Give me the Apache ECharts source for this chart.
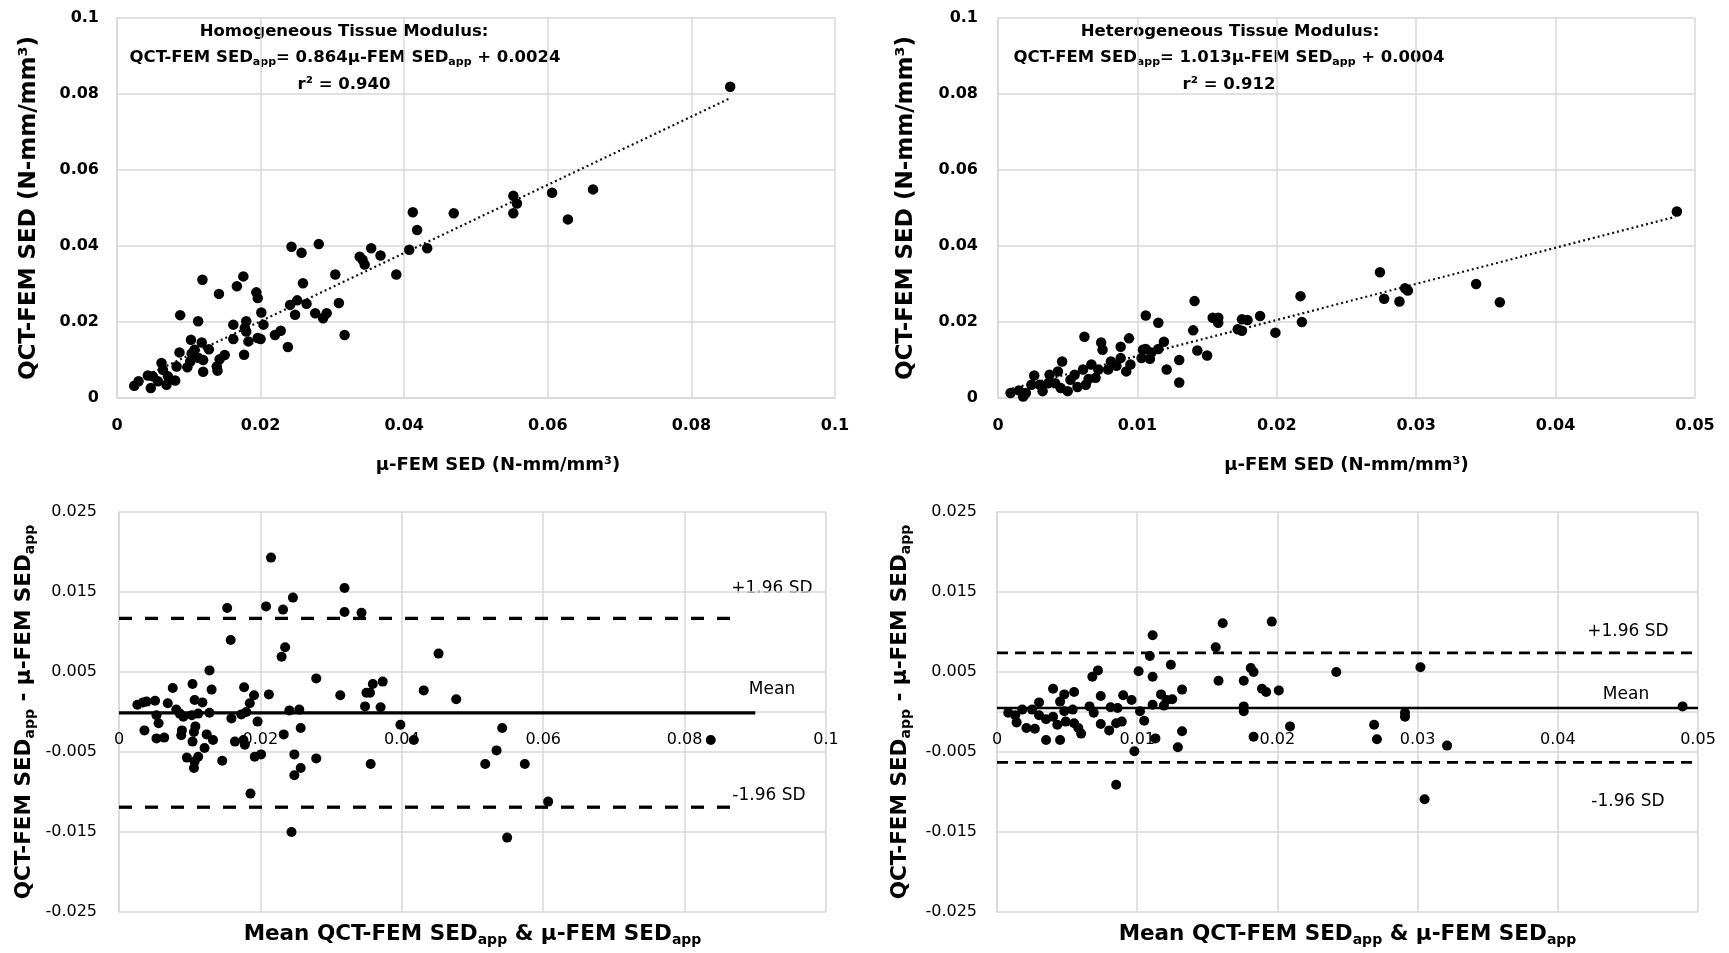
<!DOCTYPE html>
<html lang="en">
<head>
  <meta charset="utf-8">
  <title>QCT-FEM vs µ-FEM SED</title>
  <script src="https://cdn.jsdelivr.net/npm/echarts@6/dist/echarts.min.js"></script>
  <style>
    html, body { margin: 0; padding: 0; background: #fff; }
    #chart { width: 1729px; height: 953px; }
  </style>
</head>
<body>
<div id="chart"></div>
<script>
  const FONT = '"DejaVu Sans", sans-serif';
  const GRAY = '#d9d9d9';

  // top panels: [µ-FEM SED, QCT-FEM SED]
  const homogeneousPts = [
    [0.0854,0.0819],[0.0663,0.0549],[0.0606,0.0540],[0.0628,0.0470],[0.0552,0.0532],[0.0557,0.0512],
    [0.0552,0.0486],[0.0469,0.0486],[0.0412,0.0489],[0.0418,0.0442],[0.0432,0.0394],[0.0407,0.0390],
    [0.0389,0.0325],[0.0367,0.0375],[0.0354,0.0394],[0.0342,0.0364],[0.0338,0.0372],[0.0345,0.0351],
    [0.0304,0.0325],[0.0309,0.0250],[0.0317,0.0166],[0.0281,0.0405],[0.0243,0.0398],[0.0257,0.0382],
    [0.0259,0.0302],[0.0241,0.0245],[0.0251,0.0257],[0.0248,0.0219],[0.0264,0.0248],[0.0276,0.0223],
    [0.0287,0.0210],[0.0292,0.0223],[0.0220,0.0166],[0.0228,0.0177],[0.0238,0.0134],[0.0194,0.0278],
    [0.0196,0.0263],[0.0201,0.0225],[0.0204,0.0193],[0.0119,0.0311],[0.0176,0.0320],[0.0167,0.0294],
    [0.0142,0.0274],[0.0088,0.0218],[0.0113,0.0202],[0.0162,0.0193],[0.0180,0.0202],[0.0178,0.0184],
    [0.0180,0.0175],[0.0162,0.0155],[0.0183,0.0149],[0.0196,0.0158],[0.0200,0.0155],[0.0177,0.0114],
    [0.0103,0.0153],[0.0118,0.0146],[0.0128,0.0128],[0.0087,0.0120],[0.0104,0.0117],[0.0113,0.0106],
    [0.0102,0.0096],[0.0098,0.0081],[0.0120,0.0100],[0.0120,0.0069],[0.0139,0.0083],[0.0143,0.0102],
    [0.0150,0.0113],[0.0140,0.0072],[0.0083,0.0083],[0.0062,0.0092],[0.0064,0.0074],[0.0071,0.0057],
    [0.0081,0.0046],[0.0069,0.0035],[0.0050,0.0057],[0.0043,0.0059],[0.0047,0.0026],[0.0030,0.0044],
    [0.0024,0.0032],[0.0057,0.0044],[0.0108,0.0127]
  ];
  const homogeneousTrend = [[0.0025, 0.0045], [0.0854, 0.0789]];

  const heterogeneousPts = [
    [0.0487,0.0491],[0.0274,0.0331],[0.0343,0.0300],[0.0360,0.0252],[0.0292,0.0289],[0.0294,0.0283],
    [0.0277,0.0261],[0.0288,0.0254],[0.0217,0.0268],[0.0218,0.0200],[0.0199,0.0172],[0.0188,0.0216],
    [0.0179,0.0205],[0.0175,0.0207],[0.0172,0.0181],[0.0175,0.0177],[0.0141,0.0255],[0.0140,0.0178],
    [0.0143,0.0125],[0.0150,0.0112],[0.0154,0.0211],[0.0158,0.0211],[0.0158,0.0198],[0.0106,0.0217],
    [0.0115,0.0198],[0.0094,0.0157],[0.0088,0.0135],[0.0119,0.0148],[0.0115,0.0129],[0.0106,0.0129],
    [0.0110,0.0120],[0.0130,0.0100],[0.0121,0.0075],[0.0130,0.0041],[0.0104,0.0127],[0.0103,0.0105],
    [0.0109,0.0103],[0.0088,0.0105],[0.0095,0.0088],[0.0092,0.0070],[0.0062,0.0161],[0.0074,0.0146],
    [0.0075,0.0127],[0.0081,0.0096],[0.0079,0.0075],[0.0067,0.0088],[0.0072,0.0075],[0.0070,0.0053],
    [0.0061,0.0075],[0.0063,0.0035],[0.0055,0.0061],[0.0052,0.0048],[0.0046,0.0096],[0.0043,0.0070],
    [0.0037,0.0061],[0.0036,0.0039],[0.0041,0.0039],[0.0045,0.0026],[0.0050,0.0018],[0.0030,0.0035],
    [0.0026,0.0059],[0.0024,0.0035],[0.0032,0.0018],[0.0020,0.0013],[0.0015,0.0020],[0.0009,0.0013],
    [0.0018,0.0004],[0.0057,0.0029],[0.0065,0.0050],[0.0085,0.0085]
  ];
  const heterogeneousTrend = [[0.0010, 0.0025], [0.0486, 0.0477]];

  // bottom panels: [mean of both SED, QCT-FEM minus µ-FEM]
  const homogeneousDiff = [
    [0.0215,0.0193],[0.0319,0.0155],[0.0319,0.0125],[0.0343,0.0124],[0.0246,0.0143],[0.0232,0.0128],
    [0.0208,0.0132],[0.0153,0.0130],[0.0158,0.0090],[0.0235,0.0081],[0.0230,0.0069],[0.0128,0.0052],
    [0.0279,0.0042],[0.0076,0.0030],[0.0104,0.0035],[0.0131,0.0028],[0.0177,0.0031],[0.0191,0.0021],
    [0.0212,0.0022],[0.0185,0.0011],[0.0313,0.0021],[0.0350,0.0024],[0.0355,0.0024],[0.0359,0.0035],
    [0.0373,0.0038],[0.0348,0.0007],[0.0370,0.0006],[0.0241,0.0002],[0.0255,0.0003],[0.0026,0.0009],
    [0.0034,0.0012],[0.0039,0.0013],[0.0051,0.0014],[0.0069,0.0011],[0.0053,-0.0004],[0.0056,-0.0014],
    [0.0036,-0.0023],[0.0053,-0.0033],[0.0064,-0.0032],[0.0081,0.0003],[0.0086,-0.0002],[0.0091,-0.0006],
    [0.0089,-0.0023],[0.0088,-0.0029],[0.0103,-0.0004],[0.0107,0.0015],[0.0118,0.0012],[0.0112,-0.0002],
    [0.0128,-0.0001],[0.0108,-0.0018],[0.0106,-0.0025],[0.0104,-0.0037],[0.0124,-0.0028],[0.0133,-0.0035],
    [0.0121,-0.0045],[0.0112,-0.0056],[0.0096,-0.0057],[0.0107,-0.0062],[0.0106,-0.0070],[0.0146,-0.0061],
    [0.0159,-0.0008],[0.0164,-0.0037],[0.0176,-0.0035],[0.0178,-0.0041],[0.0173,-0.0003],[0.0180,0.0000],
    [0.0196,-0.0012],[0.0192,-0.0056],[0.0201,-0.0053],[0.0186,-0.0102],[0.0233,-0.0028],[0.0248,-0.0053],
    [0.0257,-0.0020],[0.0248,-0.0079],[0.0257,-0.0070],[0.0279,-0.0058],[0.0398,-0.0016],[0.0356,-0.0065],
    [0.0417,-0.0035],[0.0452,0.0073],[0.0431,0.0027],[0.0477,0.0016],[0.0542,-0.0020],[0.0534,-0.0048],
    [0.0518,-0.0065],[0.0574,-0.0065],[0.0607,-0.0112],[0.0549,-0.0157],[0.0837,-0.0035],[0.0244,-0.0150]
  ];
  const heterogeneousDiff = [
    [0.0196,0.0113],[0.0161,0.0111],[0.0156,0.0081],[0.0111,0.0096],[0.0109,0.0070],[0.0111,0.0044],
    [0.0101,0.0051],[0.0124,0.0059],[0.0158,0.0039],[0.0176,0.0039],[0.0181,0.0055],[0.0183,0.0050],
    [0.0189,0.0029],[0.0192,0.0025],[0.0201,0.0027],[0.0132,0.0028],[0.0117,0.0022],[0.0121,0.0015],
    [0.0125,0.0016],[0.0111,0.0009],[0.0119,0.0008],[0.0176,0.0007],[0.0176,0.0001],[0.0068,0.0044],
    [0.0072,0.0052],[0.0040,0.0029],[0.0048,0.0022],[0.0055,0.0025],[0.0045,0.0013],[0.0030,0.0012],
    [0.0074,0.0020],[0.0090,0.0021],[0.0096,0.0015],[0.0066,0.0007],[0.0069,-0.0001],[0.0074,-0.0015],
    [0.0081,0.0006],[0.0086,0.0005],[0.0102,0.0001],[0.0105,-0.0011],[0.0085,-0.0014],[0.0089,-0.0012],
    [0.0080,-0.0023],[0.0008,-0.0001],[0.0013,-0.0004],[0.0018,0.0003],[0.0014,-0.0013],[0.0021,-0.0020],
    [0.0027,-0.0021],[0.0025,0.0003],[0.0030,-0.0004],[0.0035,-0.0009],[0.0040,-0.0006],[0.0043,-0.0016],
    [0.0035,-0.0035],[0.0045,-0.0035],[0.0048,0.0001],[0.0054,0.0003],[0.0049,-0.0012],[0.0055,-0.0014],
    [0.0058,-0.0020],[0.0060,-0.0027],[0.0113,-0.0033],[0.0132,-0.0024],[0.0129,-0.0044],[0.0098,-0.0049],
    [0.0085,-0.0091],[0.0183,-0.0031],[0.0209,-0.0018],[0.0242,0.0050],[0.0302,0.0056],[0.0489,0.0007],
    [0.0291,-0.0001],[0.0291,-0.0006],[0.0269,-0.0016],[0.0271,-0.0034],[0.0321,-0.0042],[0.0305,-0.0109]
  ];

  // [+1.96 SD, mean, -1.96 SD]
  const homogeneousLimits = [0.0117, -0.0001, -0.0119];
  const heterogeneousLimits = [0.0074, 0.0005, -0.0063];
  // x where the dashed and the solid lines stop
  const homogeneousLimitEnd = [0.088, 0.090];
  const heterogeneousLimitEnd = [0.05, 0.05];

  const diffTicks = [-0.025, -0.015, -0.005, 0.005, 0.015, 0.025];

  let chart = echarts.init(document.getElementById('chart'));

  let boldLabel = { color: '#000', fontFamily: FONT, fontWeight: 'bold', fontSize: 16 };
  let plainLabel = { color: '#000', fontFamily: FONT, fontSize: 16 };
  let subRich = {
    t: { fontFamily: FONT, fontWeight: 'bold', fontSize: 21.5, lineHeight: 26, color: '#000' },
    sub: { fontFamily: FONT, fontWeight: 'bold', fontSize: 14, lineHeight: 15, verticalAlign: 'bottom', color: '#000' }
  };

  // bottom panels: x axis sits on y = 0, which is the middle of a symmetric y range
  const BOTTOM_H = 400;
  const zeroOffset = -BOTTOM_H / 2;

  function axis(extra) {
    return Object.assign({
      type: 'value',
      nameLocation: 'middle',
      axisLine: { show: true, onZero: false, lineStyle: { color: GRAY, width: 1.5 } },
      axisTick: { show: false },
      splitLine: { show: true, lineStyle: { color: GRAY, width: 1.5 } }
    }, extra);
  }

  function limitLines(limits, ends, idx, dash, width) {
    return limits.map(function (v, i) {
      let end = i === 1 ? ends[1] : ends[0];
      return {
        type: 'line', xAxisIndex: idx, yAxisIndex: idx, z: 1,
        data: [[0, v], [end, v]], showSymbol: false, silent: true,
        lineStyle: { color: '#000', width: width, type: i === 1 ? 'solid' : dash }
      };
    });
  }

  function txt(x, y, text, size, weight, rich) {
    return {
      type: 'text', x: x, y: y, silent: true,
      style: {
        text: text, fill: '#000', fontFamily: FONT, fontSize: size, fontWeight: weight,
        align: 'center', verticalAlign: 'middle', rich: rich
      }
    };
  }

  let annRich = {
    t: { fontFamily: FONT, fontWeight: 'bold', fontSize: 16.5, lineHeight: 20, color: '#000' },
    sub: { fontFamily: FONT, fontWeight: 'bold', fontSize: 11, lineHeight: 12, verticalAlign: 'bottom', color: '#000' }
  };

  let option = {
    animation: false,
    grid: [
      { left: 117, top: 18, width: 718, height: 380, outerBoundsMode: 'none' },
      { left: 998, top: 18, width: 697, height: 380, outerBoundsMode: 'none' },
      { left: 119, top: 512, width: 707, height: BOTTOM_H, outerBoundsMode: 'none' },
      { left: 997, top: 512, width: 701, height: BOTTOM_H, outerBoundsMode: 'none' }
    ],
    xAxis: [
      axis({ gridIndex: 0, min: 0, max: 0.1, interval: 0.02, name: 'µ-FEM SED (N-mm/mm³)', nameGap: 58,
        nameTextStyle: { fontFamily: FONT, fontWeight: 'bold', fontSize: 18, color: '#000', padding: [0, 0, 0, 44] },
        axisLabel: Object.assign({ margin: 20 }, boldLabel) }),
      axis({ gridIndex: 1, min: 0, max: 0.05, interval: 0.01, name: 'µ-FEM SED (N-mm/mm³)', nameGap: 58,
        nameTextStyle: { fontFamily: FONT, fontWeight: 'bold', fontSize: 18, color: '#000' },
        axisLabel: Object.assign({ margin: 20 }, boldLabel) }),
      axis({ gridIndex: 2, min: 0, max: 0.1, interval: 0.02, offset: zeroOffset,
        name: '{t|Mean QCT-FEM SED}{sub|app}{t| & µ-FEM SED}{sub|app}', nameGap: 209,
        nameTextStyle: { rich: subRich },
        axisLabel: Object.assign({ margin: 20 }, plainLabel) }),
      axis({ gridIndex: 3, min: 0, max: 0.05, interval: 0.01, offset: zeroOffset,
        name: '{t|Mean QCT-FEM SED}{sub|app}{t| & µ-FEM SED}{sub|app}', nameGap: 209,
        nameTextStyle: { rich: subRich },
        axisLabel: Object.assign({ margin: 20 }, plainLabel) })
    ],
    yAxis: [
      axis({ gridIndex: 0, min: 0, max: 0.1, interval: 0.02, name: 'QCT-FEM SED (N-mm/mm³)', nameGap: 76,
        nameTextStyle: { fontFamily: FONT, fontWeight: 'bold', fontSize: 23, color: '#000' },
        axisLabel: Object.assign({ margin: 18 }, boldLabel) }),
      axis({ gridIndex: 1, min: 0, max: 0.1, interval: 0.02, name: 'QCT-FEM SED (N-mm/mm³)', nameGap: 80,
        nameTextStyle: { fontFamily: FONT, fontWeight: 'bold', fontSize: 23, color: '#000' },
        axisLabel: Object.assign({ margin: 20 }, boldLabel) }),
      axis({ gridIndex: 2, min: -0.025, max: 0.025,
        name: '{t|QCT-FEM SED}{sub|app}{t| - µ-FEM SED}{sub|app}', nameGap: 82,
        nameTextStyle: { rich: subRich },
        axisTick: { show: false, customValues: diffTicks },
        axisLabel: Object.assign({ margin: 22, customValues: diffTicks, formatter: function (v) { return v.toFixed(3); } }, plainLabel) }),
      axis({ gridIndex: 3, min: -0.025, max: 0.025,
        name: '{t|QCT-FEM SED}{sub|app}{t| - µ-FEM SED}{sub|app}', nameGap: 84,
        nameTextStyle: { rich: subRich },
        axisTick: { show: false, customValues: diffTicks },
        axisLabel: Object.assign({ margin: 20, customValues: diffTicks, formatter: function (v) { return v.toFixed(3); } }, plainLabel) })
    ],
    series: [
      { type: 'line', xAxisIndex: 0, yAxisIndex: 0, data: homogeneousTrend, showSymbol: false, z: 1,
        lineStyle: { color: '#111', width: 2.2, type: [2, 3] } },
      { type: 'line', xAxisIndex: 1, yAxisIndex: 1, data: heterogeneousTrend, showSymbol: false, z: 1,
        lineStyle: { color: '#111', width: 2.2, type: [2, 3] } },
      { type: 'scatter', xAxisIndex: 0, yAxisIndex: 0, data: homogeneousPts, symbolSize: 10.5, z: 2, itemStyle: { color: '#000', opacity: 1 } },
      { type: 'scatter', xAxisIndex: 1, yAxisIndex: 1, data: heterogeneousPts, symbolSize: 10.5, z: 2, itemStyle: { color: '#000', opacity: 1 } },
      { type: 'scatter', xAxisIndex: 2, yAxisIndex: 2, data: homogeneousDiff, symbolSize: 10, z: 2, itemStyle: { color: '#000', opacity: 1 } },
      { type: 'scatter', xAxisIndex: 3, yAxisIndex: 3, data: heterogeneousDiff, symbolSize: 10, z: 2, itemStyle: { color: '#000', opacity: 1 } }
    ]
      .concat(limitLines(homogeneousLimits, homogeneousLimitEnd, 2, [13, 13], 3.3))
      .concat(limitLines(heterogeneousLimits, heterogeneousLimitEnd, 3, [11, 7], 2.7)),
    graphic: [
      txt(344, 32, 'Homogeneous Tissue Modulus:', 16.5, 'bold'),
      txt(345, 58, '{t|QCT-FEM SED}{sub|app}{t|= 0.864µ-FEM SED}{sub|app}{t| + 0.0024}', 16.5, 'bold', annRich),
      txt(344, 85, 'r² = 0.940', 16.5, 'bold'),
      txt(1230, 32, 'Heterogeneous Tissue Modulus:', 16.5, 'bold'),
      txt(1229, 58, '{t|QCT-FEM SED}{sub|app}{t|= 1.013µ-FEM SED}{sub|app}{t| + 0.0004}', 16.5, 'bold', annRich),
      txt(1229, 85, 'r² = 0.912', 16.5, 'bold'),
      txt(772, 589, '+1.96 SD', 17, 'normal'),
      txt(772, 690, 'Mean', 17, 'normal'),
      txt(769, 796, '-1.96 SD', 17, 'normal'),
      txt(1628, 632, '+1.96 SD', 17, 'normal'),
      txt(1626, 695, 'Mean', 17, 'normal'),
      txt(1628, 802, '-1.96 SD', 17, 'normal')
    ]
  };

  chart.setOption(option);
</script>
</body>
</html>
